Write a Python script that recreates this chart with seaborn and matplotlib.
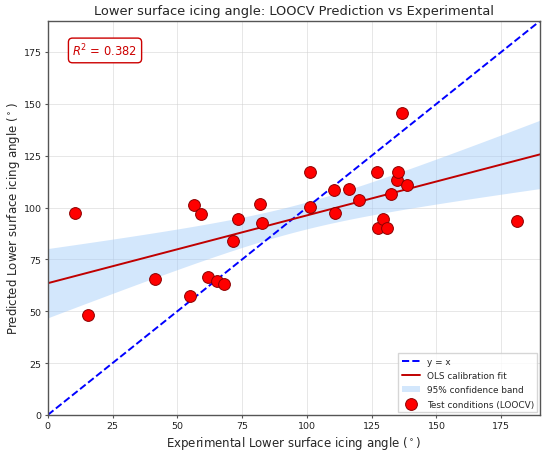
import numpy as np
import pandas as pd
import matplotlib
matplotlib.use("Agg")
import matplotlib.pyplot as plt
import seaborn as sns

# --- Data ---
experimental = [10.4, 15.6, 41.3, 54.8, 56.4, 59.2, 61.9, 65.4, 68.1, 71.3,
                73.5, 82.0, 82.5, 101.3, 101.3, 110.5, 110.7, 116.1, 120.0, 126.9,
                127.3, 129.5, 130.9, 132.4, 134.7, 135.1, 136.7, 138.5, 181.1]
predicted = [97.4, 48.4, 65.7, 57.4, 101.1, 96.9, 66.7, 64.8, 63.0, 84.0,
             94.3, 101.9, 92.4, 117.2, 100.4, 108.3, 97.4, 109.0, 103.5, 117.2,
             90.2, 94.7, 89.9, 106.6, 113.5, 117.2, 145.8, 110.7, 93.7]
r2_text = "$R^2$ = 0.382"
AX_MAX = 190

df = pd.DataFrame({"exp": experimental, "pred": predicted})

# --- OLS fit and 95% confidence band ---
x = df["exp"].to_numpy()
y = df["pred"].to_numpy()
n = len(x)
slope, intercept = np.polyfit(x, y, 1)
resid = y - (slope * x + intercept)
s = np.sqrt(np.sum(resid ** 2) / (n - 2))
t_crit = 2.052  # t(0.975, df=27)
xs = np.linspace(0, AX_MAX, 200)
fit = slope * xs + intercept
half = t_crit * s * np.sqrt(1 / n + (xs - x.mean()) ** 2 / np.sum((x - x.mean()) ** 2))
fit_df = pd.DataFrame({"x": xs, "y": fit})
ident_df = pd.DataFrame({"x": [0, AX_MAX], "y": [0, AX_MAX]})

# --- Plot ---
sns.set_style("ticks")
plt.rcParams["font.family"] = ["DejaVu Sans"]
fig, ax = plt.subplots(figsize=(5.5, 4.56), dpi=100)

sns.lineplot(data=ident_df, x="x", y="y", ax=ax, color="blue", linestyle="--",
             linewidth=1.4, label="y = x")
sns.lineplot(data=fit_df, x="x", y="y", ax=ax, color="#c00000", linewidth=1.4,
             label="OLS calibration fit")
ax.fill_between(xs, fit - half, fit + half, color="#9fcaf9", alpha=0.45,
                linewidth=0, label="95% confidence band")
sns.scatterplot(data=df, x="exp", y="pred", ax=ax, color="red", edgecolor="#8b0000",
                s=72, linewidth=0.7, zorder=5, label="Test conditions (LOOCV)")

ax.set_xlim(0, AX_MAX)
ax.set_ylim(0, AX_MAX)
ax.set_xticks(np.arange(0, 176, 25))
ax.set_yticks(np.arange(0, 176, 25))
ax.grid(True, color="#d0d0d0", alpha=0.6, linewidth=0.6)
for sp in ax.spines.values():
    sp.set_color("#555555")
    sp.set_linewidth(1.0)
ax.tick_params(labelsize=6.8, colors="#222222", length=2.5, width=0.8, pad=2,
               color="#555555")

ax.set_title("Lower surface icing angle: LOOCV Prediction vs Experimental",
             fontsize=9.4, pad=5)
ax.set_xlabel("Experimental Lower surface icing angle ($^\\circ$)", fontsize=8.5,
              labelpad=3)
ax.set_ylabel("Predicted Lower surface icing angle ($^\\circ$)", fontsize=8.5,
              labelpad=1.5)

ax.text(0.05, 0.925, r2_text, transform=ax.transAxes, fontsize=8.3, color="#cc0000",
        ha="left", va="center",
        bbox=dict(boxstyle="round,pad=0.35", facecolor="white", edgecolor="#cc0000"))

ax.legend(loc="lower right", fontsize=6.4, frameon=True, fancybox=False,
          edgecolor="#cccccc", borderaxespad=0.3, labelspacing=0.6)

fig.subplots_adjust(left=0.087, right=0.982, bottom=0.088, top=0.952)
fig.savefig("out.png", dpi=100)
